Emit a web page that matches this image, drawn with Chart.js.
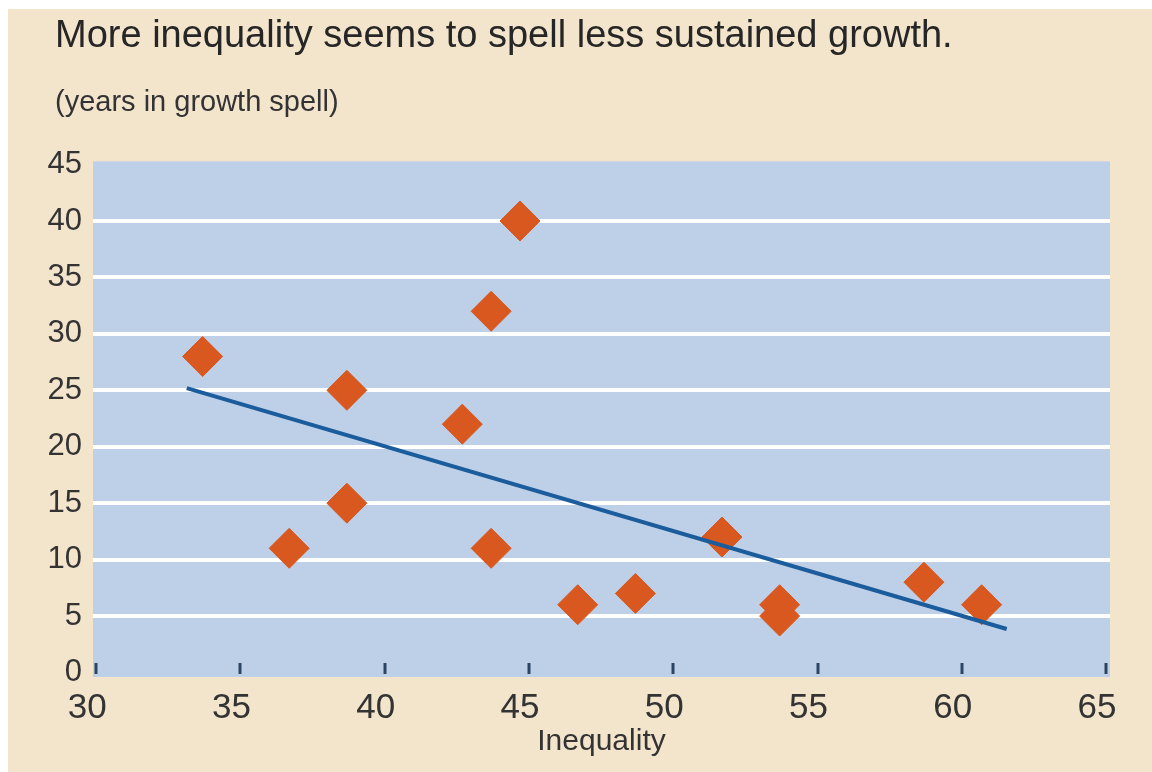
<!DOCTYPE html>
<html>
<head>
<meta charset="utf-8">
<script src="https://cdn.jsdelivr.net/npm/chart.js@4/dist/chart.umd.min.js"></script>
<style>
  html, body { margin: 0; padding: 0; background: #ffffff; }
  #wrap {
    position: absolute; left: 8px; top: 9px;
    width: 1144px; height: 763px;
    background: #f3e4cc;
  }
</style>
</head>
<body>
<div id="wrap"><canvas id="chart-spells"></canvas></div>
<script>
// inequality (Gini) vs. length of growth spell, one point per country
const inequality = [34, 37, 39, 39, 43, 44, 45, 44, 47, 49, 52, 54, 54, 59, 61];
const spellYears = [28, 11, 25, 15, 22, 32, 40, 11, 6, 7, 12, 6, 5, 8, 6];

// fitted trend, end points
const trendX = [33.45, 61.87];
const trendY = [25.2, 3.85];

const xTicks = [30, 35, 40, 45, 50, 55, 60, 65];
const yTicks = [0, 5, 10, 15, 20, 25, 30, 35, 40, 45];

const FONT = "'Liberation Sans', Arial, sans-serif";
const TEXT = '#333333';

// blue plot panel + the little tick stubs along the bottom edge
const panelPlugin = {
  id: 'panel',
  afterLayout(chart) {
    // y labels hang a bit left of the title margin; widen the label clip box
    chart.scales.y.left -= 16;
  },
  beforeDraw(chart) {
    const { ctx, chartArea: a } = chart;
    ctx.save();
    ctx.fillStyle = '#bed0e7';
    ctx.fillRect(a.left, a.top, a.right - a.left, a.bottom - a.top);
    ctx.restore();
  },
  afterDatasetsDraw(chart) {
    const { ctx, chartArea: a, scales } = chart;
    ctx.save();
    ctx.strokeStyle = '#2d4463';
    ctx.lineWidth = 3;
    xTicks.forEach(v => {
      const px = Math.round(scales.x.getPixelForValue(v)) + 9;
      ctx.beginPath();
      ctx.moveTo(px, a.bottom - 14);
      ctx.lineTo(px, a.bottom - 3);
      ctx.stroke();
    });
    ctx.restore();
  },
};

new Chart(document.getElementById('chart-spells'), {
  type: 'scatter',
  data: {
    datasets: [
      {
        label: 'Countries',
        data: inequality.map((x, i) => ({ x, y: spellYears[i] })),
        pointStyle: 'rectRot',
        pointRadius: 20,
        pointHoverRadius: 20,
        backgroundColor: '#d9581f',
        borderColor: '#d9581f',
        borderWidth: 1,
        order: 2,
      },
      {
        label: 'Trend',
        type: 'line',
        data: trendX.map((x, i) => ({ x, y: trendY[i] })),
        borderColor: '#1b5c9c',
        borderWidth: 4,
        pointRadius: 0,
        fill: false,
        order: 1,
      },
    ],
  },
  options: {
    responsive: true,
    maintainAspectRatio: false,
    animation: false,
    layout: { padding: { left: 47, right: 42, top: 0, bottom: 0 } },
    plugins: {
      legend: { display: false },
      tooltip: { enabled: false },
      title: {
        display: true,
        text: 'More inequality seems to spell less sustained growth.',
        align: 'start',
        color: '#262626',
        font: { family: FONT, size: 38, weight: 'normal' },
        padding: { top: 5, bottom: 26 },
      },
      subtitle: {
        display: true,
        text: '(years in growth spell)',
        align: 'start',
        color: TEXT,
        font: { family: FONT, size: 29 },
        padding: { top: 0, bottom: 41 },
      },
    },
    scales: {
      x: {
        type: 'linear',
        min: 30.2,
        max: 65.45,
        afterBuildTicks: s => { s.ticks = xTicks.map(value => ({ value })); },
        afterFit: s => { s.height = 95; },
        grid: { display: false },
        border: { display: false },
        ticks: {
          color: TEXT,
          padding: 2,
          font: { family: FONT, size: 35 },
        },
        title: {
          display: true,
          text: 'Inequality',
          color: TEXT,
          font: { family: FONT, size: 30 },
          padding: { top: 0, bottom: 12 },
        },
      },
      y: {
        min: -0.4,
        max: 45.28,
        afterBuildTicks: s => { s.ticks = yTicks.map(value => ({ value })); },
        afterFit: s => { s.width = 38; },
        border: { display: false },
        grid: {
          drawTicks: false,
          lineWidth: 4,
          color: c => (c.tick && c.tick.value > 0 && c.tick.value < 45) ? '#ffffff' : 'rgba(0,0,0,0)',
        },
        ticks: {
          color: TEXT,
          padding: 11,
          font: { family: FONT, size: 31 },
        },
      },
    },
  },
  plugins: [panelPlugin],
});
</script>
</body>
</html>
